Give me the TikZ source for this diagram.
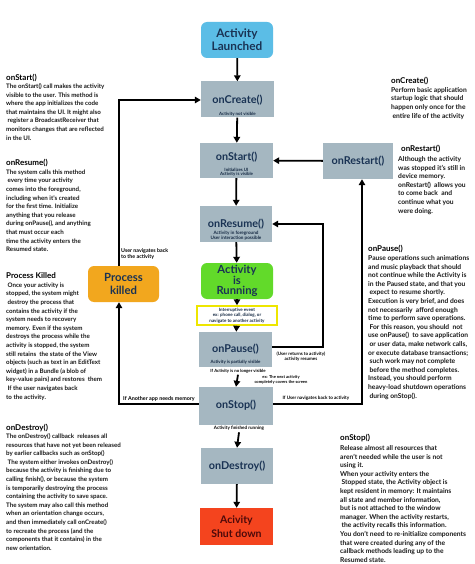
\documentclass[tikz,border=0pt]{standalone}
\usepackage{fontspec}
\setmainfont{Lato}
\usetikzlibrary{arrows.meta}
\definecolor{launchblue}{HTML}{5BBDE6}
\definecolor{boxgray}{HTML}{A5B7C1}
\definecolor{killorange}{HTML}{F2A71E}
\definecolor{rungreen}{HTML}{62DA2A}
\definecolor{downred}{HTML}{F4441E}
\definecolor{navy}{HTML}{1A3354}
\definecolor{darkred}{HTML}{4D0A0A}
\definecolor{eventyellow}{HTML}{EEE600}
\tikzset{
  lifebox/.style={fill=boxgray, minimum width=73pt, minimum height=36pt, inner sep=0pt},
  boxlabel/.style={inner sep=0pt, text=navy, font=\fontsize{10.8}{11}\selectfont\bfseries},
  sublabel/.style={inner sep=0pt, align=center, text=navy!80!black, font=\fontsize{4.4}{4.4}\selectfont\bfseries},
  linelabel/.style={inner sep=0pt, align=left, text=black, font=\fontsize{5.3}{6}\selectfont\bfseries},
  statebox/.style={rounded corners=6pt, minimum width=72pt, minimum height=36pt, inner sep=0pt, align=center, text=navy, font=\fontsize{11.8}{13}\selectfont\bfseries},
  arr/.style={line width=1.8pt, -{Triangle[length=6pt,width=6.5pt]}},
  titletext/.style={anchor=west, inner sep=0pt, font=\fontsize{8}{8}\selectfont\bfseries},
  bodytext/.style={anchor=north west, inner sep=0pt, align=left, text=black!90, font=\fontsize{6.2}{8.6}\selectfont\bfseries},
  rbodytext/.style={bodytext, font=\fontsize{6.7}{8.6}\selectfont\bfseries}
}
\begin{document}
\begin{tikzpicture}[x=1pt,y=-1pt]
\fill[white] (0,0) rectangle (474,564);
\useasboundingbox (0,0) rectangle (474,564);

% ---- central chain ----
\node[statebox, fill=launchblue] (launched) at (237,40) {Activity\\Launched};
\node[lifebox] (create) at (237.5,99.5) {};
\node[boxlabel] (createlbl) at (237.5,100) {onCreate()};
\node[sublabel] (createsub) at (237.5,114) {Activity not visible};

\node[lifebox, minimum height=35pt] (start) at (236.5,160.5) {};
\node[boxlabel] (startlbl) at (236.5,157.5) {onStart()};
\node[sublabel, font=\fontsize{4.4}{3.8}\selectfont\bfseries] (startsub) at (236.5,172.5) {Initializes UI\\Activity is visible};

\node[lifebox, minimum width=70pt] (restart) at (358,161) {};
\node[boxlabel] (restartlbl) at (358,161) {onRestart()};

\node[lifebox, minimum width=72pt] (resume) at (236,224) {};
\node[boxlabel] (resumelbl) at (236,224) {onResume()};
\node[sublabel, font=\fontsize{4.6}{5}\selectfont\bfseries] (resumesub) at (236,236) {Activity in foreground\\User interaction possible};

\node[statebox, fill=rungreen, font=\fontsize{11.2}{10.6}\selectfont\bfseries] (running) at (237,281) {Activity\\is\\Running};

\node[draw=eventyellow, line width=1.5pt, fill=white, minimum width=80pt, minimum height=19pt, inner sep=0pt, align=center, text=navy!80!black, font=\fontsize{4.5}{5.4}\selectfont\bfseries] (interrupt) at (237,315.5) {Interruptive event\\ex: phone call, dialog, or\\navigate to another activity};

\node[lifebox, minimum height=35pt] (pause) at (235.5,349.5) {};
\node[boxlabel] (pauselbl) at (235.5,349) {onPause()};
\node[sublabel] (pausesub) at (235.5,362) {Activity is partially visible};

\node[inner sep=0pt, text=black, font=\fontsize{4.3}{5}\selectfont\bfseries] (nolonger) at (238,371) {If Activity is no longer visible};
\node[sublabel, text=black, font=\fontsize{4.1}{5}\selectfont\bfseries] (covers) at (281,379.5) {ex: The next activity\\completely covers the screen};

\node[lifebox, minimum width=74pt, minimum height=38pt] (stop) at (236,406) {};
\node[boxlabel] (stoplbl) at (236,405) {onStop()};
\node[inner sep=0pt, text=black, font=\fontsize{4.6}{5}\selectfont\bfseries] (finished) at (239,428.5) {Activity finished running};

\node[lifebox, minimum width=72pt] (destroy) at (237,466) {};
\node[boxlabel] (destroylbl) at (237,466) {onDestroy()};

\node[statebox, rounded corners=0pt, fill=downred, minimum width=73pt, minimum height=37pt, text=darkred, font=\fontsize{10.5}{14.5}\selectfont\bfseries] (shutdown) at (236.5,526.5) {Acivity\\Shut down};

\node[statebox, fill=killorange, minimum width=71pt, font=\fontsize{11.3}{13}\selectfont\bfseries] (killed) at (123.5,284) {Process\\killed};

% ---- connectors ----
\draw[arr] (launched) -- (create);
\draw[arr] (create) -- (start);
\draw[arr] (start) -- (resume);
\draw[arr] (resume) -- (running);
\draw[arr] (running) -- (interrupt);
\draw[arr] (interrupt) -- (pause);
\draw[arr] ([yshift=-1.5pt]nolonger.south) -- (stop.north);
\draw[arr] ([yshift=-1.5pt]finished.south) -- (destroy.north);
\draw[arr] (destroy) -- (shutdown);
\draw[arr] (restart) -- (start);

\coordinate (rstop) at (362,404);
\draw[arr] (stop.east |- rstop) -- (rstop) -- (rstop |- restart.south);

\coordinate (rpause) at (323,347);
\draw[arr] (pause.east |- rpause) -- (rpause) |- (resume.east);

\coordinate (lstop) at (119,404);
\draw[arr] (stop.west |- lstop) -- (lstop) -- (lstop |- killed.south);

\coordinate (lkill) at (119,100);
\draw[arr] (lkill |- killed.north) -- (lkill) -- (create.west |- lkill);

% ---- connector labels ----
\node[linelabel, anchor=north west] (navback) at (121,248.5) {User navigates back\\to the activity};
\node[linelabel, font=\fontsize{5.4}{6}\selectfont\bfseries] (anothermem) at (159,398.5) {If Another app needs memory};
\node[linelabel, font=\fontsize{4.6}{5}\selectfont\bfseries] (usernav) at (316,398.5) {If User navigates back to activity};
\node[linelabel, align=center, font=\fontsize{4.5}{5}\selectfont\bfseries] (userreturns) at (301,356.5) {(User returns to activity)\\activity resumes};

% ---- explanatory texts, left ----
\node[titletext] (t1) at (6,78) {onStart()};
\node[bodytext] (b1) at (6,83.4) {The onStart() call makes the activity\\visible to the user. This method is\\where the app initializes the code\\that maintains the UI. It might also\\\hspace{1.4pt}register a BroadcastReceiver that\\monitors changes that are reflected\\in the UI.};

\node[titletext] (t2) at (6,162.5) {onResume()};
\node[bodytext] (b2) at (6,169.4) {The system calls this method\\\hspace{1.4pt}every time your activity\\comes into the foreground,\\including when it's created\\for the first time. Initialize\\anything that you release\\during onPause(), and anything\\that must occur each\\time the activity enters the\\Resumed state.};

\node[titletext] (t3) at (6,276) {Process Killed};
\node[bodytext] (b3) at (6,282.4) {\hspace{1.4pt}Once your activity is\\stopped, the system might\\\hspace{1.4pt}destroy the process that\\contains the activity if the\\system needs to recovery\\memory. Even if the system\\destroys the process while the\\activity is stopped, the system\\still retains\ \ the state of the View\\objects (such as text in an EditText\\widget) in a Bundle (a blob of\\key-value pairs) and restores\ \ them\\\hspace{1.4pt}If the user navigates back\\to the activity.};

\node[titletext] (t4) at (6,428) {onDestroy()};
\node[bodytext] (b4) at (6,433.4) {The onDestroy() callback\ \ releases all\\resources that have not yet been released\\by earlier callbacks such as onStop()\\\hspace{1.4pt}The system either invokes onDestroy()\\because the activity is finishing due to\\calling finish(), or because the system\\is temporarily destroying the process\\containing the activity to save space.\\The system may also call this method\\when an orientation change occurs,\\and then immediately call onCreate()\\to recreate the process (and the\\components that it contains) in the\\new orientation.};

% ---- explanatory texts, right ----
\node[titletext] (t5) at (391,81) {onCreate()};
\node[rbodytext] (b5) at (391,87.1) {Perform basic application\\startup logic that should\\happen only once for the\\\hspace{1.4pt}entire life of the activity};

\node[titletext] (t6) at (401,149) {onRestart()};
\node[rbodytext] (b6) at (398,156.4) {Although the activity\\was stopped it's still in\\device memory.\\onRestart()\ \ allows you\\to come back\ \ and\\continue what you\\were doing.};

\node[titletext] (t7) at (368,249) {onPause()};
\node[rbodytext] (b7) at (368,255.4) {Pause operations such animations\\and music playback that should\\not continue while the Activity is\\in the Paused state, and that you\\\hspace{1.4pt}expect to resume shortly.\\Execution is very brief, and does\\not necessarily\ \ afford enough\\time to perform save operations.\\\hspace{1.4pt}For this reason, you should\ \ not\\use onPause()\ \ to save application\\\hspace{1.4pt}or user data, make network calls,\\or execute database transactions;\\\hspace{1.4pt}such work may not complete\\\hspace{1.4pt}before the method completes.\\Instead, you should perform\\heavy-load shutdown operations\\\hspace{1.4pt}during onStop().};

\node[titletext] (t8) at (340,438) {onStop()};
\node[rbodytext] (b8) at (340,445.4) {Release almost all resources that\\aren't needed while the user is not\\using it.\\When your activity enters the\\\hspace{1.4pt}Stopped state, the Activity object is\\kept resident in memory: It maintains\\all state and member information,\\but is not attached to the window\\manager. When the activity restarts,\\\hspace{1.4pt}the activity recalls this information.\\You don't need to re-initialize components\\that were created during any of the\\callback methods leading up to the\\Resumed state.};
\end{tikzpicture}
\end{document}
